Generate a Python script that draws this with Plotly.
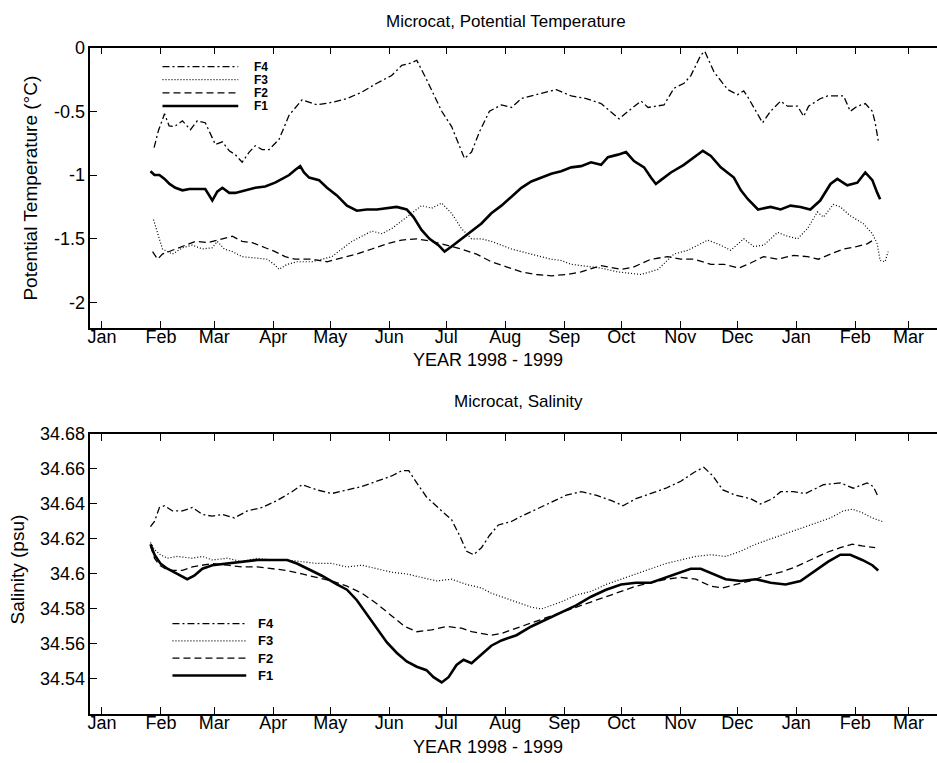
import pandas as pd
import plotly.graph_objects as go

# ---------------- data (day number since 1998-01-01, value) ----------------
months = ["Jan", "Feb", "Mar", "Apr", "May", "Jun", "Jul", "Aug", "Sep", "Oct",
          "Nov", "Dec", "Jan", "Feb", "Mar"]
month_starts = ["1998-01-01", "1998-02-01", "1998-03-01", "1998-04-01", "1998-05-01",
                "1998-06-01", "1998-07-01", "1998-08-01", "1998-09-01", "1998-10-01",
                "1998-11-01", "1998-12-01", "1999-01-01", "1999-02-01", "1999-03-01"]

# Potential temperature (deg C)
t_f4_day = [27.4, 29.7, 32.9, 35.3, 38.1, 42.3, 46.5, 50.1, 54.3, 59.6, 63.3, 66.9, 70.1, 73.7,
            77.4, 80.6, 84.2, 87.9, 93.1, 98.4, 105.2, 113.1, 120.9, 128.8, 136.6, 144.5, 152.3,
            157.6, 162.8, 165.5, 170.6, 178.6, 183.8, 188.0, 190.6, 194.3, 198.5, 203.7, 210.0,
            215.3, 220.5, 231.0, 238.9, 246.7, 254.6, 262.4, 269.2, 271.9, 276.6, 283.4, 287.1,
            295.5, 300.7, 306.0, 309.6, 314.8, 316.9, 321.7, 325.3, 329.0, 334.2, 337.4, 340.0,
            343.7, 347.3, 351.5, 356.8, 360.4, 365.7, 368.9, 371.5, 377.8, 381.5, 389.9, 393.4,
            397.1, 401.3, 405.0, 406.5, 408.1]
t_f4_val = [-0.785, -0.65, -0.52, -0.615, -0.62, -0.575, -0.645, -0.575, -0.59, -0.76, -0.74,
            -0.81, -0.84, -0.90, -0.82, -0.77, -0.80, -0.80, -0.72, -0.53, -0.41, -0.45, -0.43,
            -0.40, -0.35, -0.28, -0.22, -0.14, -0.12, -0.10, -0.25, -0.50, -0.62, -0.78, -0.87,
            -0.82, -0.66, -0.50, -0.45, -0.47, -0.40, -0.36, -0.33, -0.38, -0.40, -0.44, -0.53,
            -0.56, -0.50, -0.42, -0.47, -0.45, -0.32, -0.28, -0.22, -0.06, -0.03, -0.19, -0.26,
            -0.33, -0.37, -0.34, -0.40, -0.50, -0.59, -0.50, -0.42, -0.46, -0.46, -0.54, -0.46,
            -0.40, -0.38, -0.38, -0.50, -0.46, -0.44, -0.50, -0.59, -0.73]

t_f3_day = [27.1, 29.2, 31.8, 37.1, 42.3, 47.5, 52.8, 58.0, 60.6, 64.3, 68.5, 73.7, 81.6, 86.8,
            90.5, 93.1, 97.3, 102.5, 110.4, 115.6, 120.9, 126.1, 131.4, 136.6, 141.9, 147.1,
            152.3, 157.6, 162.8, 168.0, 173.3, 178.6, 183.8, 189.0, 194.3, 199.5, 204.7, 210.0,
            215.3, 220.5, 225.7, 231.0, 236.2, 241.4, 246.7, 251.9, 257.1, 262.4, 271.3, 278.1,
            283.4, 292.3, 296.5, 300.7, 308.0, 313.3, 318.5, 325.3, 330.5, 337.4, 342.6, 347.9,
            355.2, 360.4, 365.7, 370.9, 373.5, 376.1, 379.3, 384.5, 388.2, 393.4, 400.2, 405.0,
            407.6, 409.1, 411.7, 413.3]
t_f3_val = [-1.35, -1.45, -1.58, -1.62, -1.57, -1.55, -1.58, -1.57, -1.52, -1.58, -1.60, -1.64,
            -1.65, -1.66, -1.70, -1.74, -1.70, -1.68, -1.68, -1.66, -1.64, -1.58, -1.52, -1.48,
            -1.44, -1.46, -1.42, -1.36, -1.30, -1.24, -1.26, -1.22, -1.30, -1.42, -1.50, -1.50,
            -1.52, -1.55, -1.58, -1.60, -1.62, -1.64, -1.66, -1.67, -1.70, -1.71, -1.72, -1.73,
            -1.76, -1.77, -1.78, -1.74, -1.68, -1.62, -1.59, -1.55, -1.51, -1.55, -1.59, -1.50,
            -1.56, -1.55, -1.45, -1.48, -1.50, -1.42, -1.36, -1.29, -1.33, -1.23, -1.25, -1.32,
            -1.38, -1.46, -1.54, -1.67, -1.68, -1.60]

t_f2_day = [26.6, 29.2, 31.8, 37.1, 42.3, 49.1, 55.4, 63.3, 68.5, 73.7, 79.0, 85.8, 91.0, 96.3,
            101.5, 110.4, 118.3, 126.1, 134.0, 141.9, 149.7, 157.6, 165.5, 173.3, 181.2, 189.0,
            196.9, 204.7, 212.6, 220.5, 228.4, 236.2, 244.1, 251.9, 262.4, 272.9, 279.7, 288.6,
            297.5, 304.3, 311.2, 320.1, 326.9, 334.7, 341.0, 347.8, 355.2, 363.5, 370.9, 376.7,
            383.0, 389.8, 397.1, 402.3, 406.5]
t_f2_val = [-1.60, -1.66, -1.62, -1.59, -1.56, -1.52, -1.53, -1.50, -1.48, -1.52, -1.53, -1.57,
            -1.60, -1.64, -1.66, -1.66, -1.68, -1.65, -1.62, -1.58, -1.54, -1.51, -1.50, -1.52,
            -1.55, -1.58, -1.62, -1.68, -1.72, -1.76, -1.78, -1.79, -1.78, -1.76, -1.71, -1.74,
            -1.72, -1.66, -1.64, -1.66, -1.66, -1.70, -1.70, -1.73, -1.69, -1.64, -1.66, -1.63,
            -1.64, -1.66, -1.62, -1.58, -1.56, -1.54, -1.50]

t_f1_day = [25.5, 27.6, 30.2, 32.9, 35.5, 38.6, 42.3, 46.0, 49.1, 54.3, 58.0, 60.6, 63.3, 66.9,
            70.1, 75.3, 80.6, 85.8, 91.0, 94.7, 98.4, 101.5, 104.2, 106.2, 108.9, 114.1, 118.3,
            123.5, 128.8, 134.0, 139.2, 144.5, 149.7, 154.9, 160.2, 163.8, 168.0, 172.2, 176.9,
            180.1, 183.8, 189.0, 194.3, 199.5, 204.7, 210.0, 215.3, 220.5, 225.7, 231.0, 236.2,
            241.4, 246.7, 251.9, 257.1, 262.4, 266.0, 271.3, 275.5, 279.7, 285.0, 288.6, 291.2,
            293.8, 299.1, 305.9, 311.2, 315.9, 320.1, 325.3, 332.2, 335.9, 339.6, 344.9, 351.5,
            356.8, 362.0, 367.2, 372.4, 377.6, 383.0, 386.6, 391.8, 397.1, 401.3, 405.0, 407.6,
            409.1]
t_f1_val = [-0.97, -1.00, -1.00, -1.03, -1.07, -1.10, -1.12, -1.11, -1.11, -1.11, -1.20, -1.13,
            -1.10, -1.14, -1.14, -1.12, -1.10, -1.09, -1.06, -1.03, -1.00, -0.96, -0.93, -0.98,
            -1.02, -1.04, -1.10, -1.16, -1.24, -1.28, -1.27, -1.27, -1.26, -1.25, -1.27, -1.33,
            -1.43, -1.50, -1.55, -1.60, -1.56, -1.50, -1.44, -1.38, -1.30, -1.24, -1.17, -1.10,
            -1.05, -1.02, -0.99, -0.97, -0.94, -0.93, -0.90, -0.92, -0.86, -0.84, -0.82, -0.89,
            -0.94, -1.02, -1.07, -1.04, -0.98, -0.92, -0.86, -0.81, -0.85, -0.94, -1.02, -1.12,
            -1.19, -1.27, -1.25, -1.27, -1.24, -1.25, -1.27, -1.20, -1.07, -1.03, -1.08, -1.06,
            -0.98, -1.04, -1.14, -1.19]

# Salinity (psu)
s_f4_day = [25.5, 27.6, 30.2, 32.9, 37.1, 42.3, 47.5, 52.8, 58.0, 63.3, 69.6, 76.4, 84.2, 92.1,
            99.9, 105.2, 113.1, 120.9, 128.8, 136.6, 144.5, 152.3, 157.6, 161.3, 165.5, 170.6,
            178.6, 183.8, 188.0, 191.7, 195.4, 199.5, 203.7, 208.4, 215.3, 220.5, 228.4, 236.2,
            244.1, 251.9, 259.7, 267.6, 273.9, 280.7, 288.6, 296.5, 304.3, 311.2, 316.4, 321.2,
            326.4, 333.2, 341.0, 346.2, 352.5, 356.8, 363.6, 369.9, 379.3, 388.2, 395.0, 402.3,
            405.5, 408.1]
s_f4_val = [34.627, 34.630, 34.638, 34.639, 34.636, 34.636, 34.638, 34.634, 34.633, 34.634,
            34.632, 34.636, 34.638, 34.642, 34.647, 34.651, 34.648, 34.646, 34.648, 34.650,
            34.653, 34.656, 34.659, 34.659, 34.652, 34.644, 34.636, 34.631, 34.622, 34.613,
            34.611, 34.615, 34.622, 34.628, 34.630, 34.633, 34.637, 34.641, 34.645, 34.647,
            34.645, 34.642, 34.639, 34.643, 34.646, 34.649, 34.653, 34.658, 34.661, 34.656,
            34.648, 34.645, 34.643, 34.640, 34.643, 34.647, 34.647, 34.646, 34.651, 34.652,
            34.649, 34.652, 34.650, 34.644]

s_f3_day = [25.5, 27.6, 30.7, 34.4, 39.6, 47.5, 52.8, 58.0, 65.9, 73.7, 81.6, 89.4, 97.3, 105.2,
            113.1, 120.9, 128.8, 136.6, 144.5, 152.3, 160.2, 168.0, 175.9, 183.8, 191.7, 199.5,
            204.7, 210.0, 215.3, 220.5, 225.7, 231.0, 236.2, 241.4, 249.3, 257.1, 265.0, 272.9,
            280.7, 288.6, 296.5, 304.3, 312.2, 320.1, 327.9, 335.8, 343.7, 351.5, 359.4, 367.2,
            375.0, 382.9, 389.7, 394.5, 399.7, 405.0, 410.2]
s_f3_val = [34.618, 34.614, 34.611, 34.609, 34.610, 34.609, 34.610, 34.608, 34.609, 34.607,
            34.609, 34.608, 34.608, 34.607, 34.606, 34.606, 34.604, 34.605, 34.603, 34.601,
            34.600, 34.598, 34.596, 34.597, 34.594, 34.592, 34.589, 34.587, 34.585, 34.583,
            34.581, 34.580, 34.582, 34.584, 34.588, 34.590, 34.594, 34.597, 34.600, 34.603,
            34.606, 34.608, 34.610, 34.611, 34.610, 34.613, 34.617, 34.620, 34.623, 34.626,
            34.629, 34.632, 34.636, 34.637, 34.635, 34.632, 34.630]

s_f2_day = [25.5, 27.6, 30.2, 33.3, 37.1, 42.3, 47.5, 52.8, 58.0, 65.9, 73.7, 81.6, 89.4, 97.3,
            105.2, 113.1, 120.9, 128.8, 136.6, 144.5, 152.3, 159.1, 165.5, 173.3, 181.2, 189.0,
            194.3, 199.5, 204.7, 210.0, 217.9, 225.7, 233.6, 241.4, 249.3, 257.1, 265.0, 272.9,
            280.7, 288.6, 296.5, 304.3, 312.2, 320.1, 326.4, 333.2, 341.0, 348.9, 356.8, 364.6,
            372.4, 380.3, 388.2, 394.5, 399.7, 406.5]
s_f2_val = [34.616, 34.609, 34.605, 34.603, 34.602, 34.602, 34.604, 34.605, 34.606, 34.605,
            34.604, 34.604, 34.603, 34.602, 34.600, 34.598, 34.596, 34.593, 34.589, 34.583,
            34.576, 34.570, 34.567, 34.568, 34.570, 34.569, 34.567, 34.566, 34.565, 34.566,
            34.569, 34.572, 34.575, 34.578, 34.581, 34.584, 34.587, 34.590, 34.593, 34.595,
            34.597, 34.598, 34.597, 34.593, 34.592, 34.594, 34.596, 34.599, 34.601, 34.604,
            34.608, 34.612, 34.615, 34.617, 34.616, 34.615]

s_f1_day = [25.5, 27.6, 30.7, 34.4, 39.6, 44.8, 48.5, 52.8, 58.0, 65.9, 73.7, 81.6, 89.4, 97.3,
            102.5, 107.8, 115.6, 123.5, 128.8, 134.0, 139.2, 144.5, 149.7, 154.9, 160.2, 165.5,
            170.6, 174.3, 178.6, 182.2, 186.4, 190.1, 194.3, 199.5, 204.7, 210.0, 217.9, 225.7,
            233.6, 241.4, 249.3, 257.1, 265.0, 272.9, 280.7, 288.6, 296.5, 304.3, 309.5, 314.8,
            321.2, 327.9, 335.8, 343.7, 351.5, 359.4, 367.2, 375.0, 381.8, 388.2, 393.4, 399.7,
            405.0, 408.1]
s_f1_val = [34.617, 34.611, 34.606, 34.603, 34.600, 34.597, 34.599, 34.603, 34.605, 34.606,
            34.607, 34.608, 34.608, 34.608, 34.606, 34.603, 34.599, 34.594, 34.591, 34.585,
            34.577, 34.569, 34.561, 34.555, 34.550, 34.547, 34.545, 34.541, 34.538, 34.541,
            34.548, 34.551, 34.549, 34.554, 34.559, 34.562, 34.565, 34.570, 34.574, 34.578,
            34.582, 34.587, 34.591, 34.594, 34.595, 34.595, 34.598, 34.601, 34.603, 34.603,
            34.600, 34.597, 34.596, 34.597, 34.595, 34.594, 34.596, 34.602, 34.607, 34.611,
            34.611, 34.608, 34.605, 34.602]

temp_ticks = [0, -0.5, -1, -1.5, -2]
temp_ticktext = ["0", "-0.5", "-1", "-1.5", "-2"]
sal_ticks = [34.54, 34.56, 34.58, 34.60, 34.62, 34.64, 34.66, 34.68]
sal_ticktext = ["34.54", "34.56", "34.58", "34.6", "34.62", "34.64", "34.66", "34.68"]

# ---------------- figure ----------------
W, H = 937, 763
BASE = pd.Timestamp("1998-01-01")


def to_dates(days):
    return BASE + pd.to_timedelta(days, unit="D")


STYLES = {
    "F4": dict(color="black", width=1.3, dash="7px,3px,2px,3px"),
    "F3": dict(color="black", width=1.2, dash="1px,2px"),
    "F2": dict(color="black", width=1.3, dash="7px,4px"),
    "F1": dict(color="black", width=2.6),
}

fig = go.Figure()
top_series = [("F4", t_f4_day, t_f4_val), ("F3", t_f3_day, t_f3_val),
              ("F2", t_f2_day, t_f2_val), ("F1", t_f1_day, t_f1_val)]
bot_series = [("F4", s_f4_day, s_f4_val), ("F3", s_f3_day, s_f3_val),
              ("F2", s_f2_day, s_f2_val), ("F1", s_f1_day, s_f1_val)]
for name, d, v in top_series:
    fig.add_trace(go.Scatter(x=to_dates(d), y=v, mode="lines", name=name, line=STYLES[name],
                             xaxis="x", yaxis="y", showlegend=False))
for name, d, v in bot_series:
    fig.add_trace(go.Scatter(x=to_dates(d), y=v, mode="lines", name=name, line=STYLES[name],
                             xaxis="x2", yaxis="y2", showlegend=False))


def px_x(x):
    return x / W


def px_y(y):
    return 1 - y / H


FONT = "Liberation Sans, Arial, Helvetica, sans-serif"
xr = [BASE + pd.Timedelta(days=-6.08), BASE + pd.Timedelta(days=439.0)]
xdom = [px_x(87.7), 1.0]

common_x = dict(range=xr, domain=xdom, tickmode="array", tickvals=month_starts, ticktext=months,
                ticks="inside", ticklen=7, tickwidth=1, tickcolor="black", ticklabelstandoff=-8,
                showline=True, linecolor="black", linewidth=1.5, mirror="ticks",
                showgrid=False, zeroline=False, tickfont=dict(family=FONT, size=18, color="black"))
common_y = dict(ticks="inside", ticklen=7, tickwidth=1, tickcolor="black",
                showline=True, linecolor="black", linewidth=1.5, mirror=False,
                showgrid=False, zeroline=False, tickfont=dict(family=FONT, size=18, color="black"))

fig.update_layout(
    width=W, height=H, margin=dict(l=0, r=0, t=0, b=0),
    paper_bgcolor="white", plot_bgcolor="white", showlegend=False,
    xaxis=dict(common_x, anchor="y"),
    yaxis=dict(common_y, domain=[px_y(322.3), px_y(38.0)], range=[-2.2, 0],
               tickmode="array", tickvals=temp_ticks, ticktext=temp_ticktext, anchor="x"),
    xaxis2=dict(common_x, anchor="y2"),
    yaxis2=dict(common_y, domain=[px_y(713.3), px_y(429.6)], range=[34.52, 34.68],
                tickmode="array", tickvals=sal_ticks, ticktext=sal_ticktext, anchor="x2"),
)

ann = []
shapes = []


def text(x, y, s, size=18, angle=0, bold=False, xanchor="center", family=FONT, pad=1):
    ann.append(dict(x=px_x(x), y=px_y(y), xref="paper", yref="paper", text=("<b>%s</b>" % s) if bold else s,
                    showarrow=False, textangle=angle, xanchor=xanchor, yanchor="middle",
                    borderpad=pad, font=dict(family=family, size=size, color="black")))


text(505, 12, "Microcat, Potential Temperature", size=17)
text(487, 355, "YEAR 1998 - 1999", size=18)
text(28, 180, "Potential Temperature (°C)", size=19, angle=-90)
text(517, 397, "Microcat, Salinity", size=17)
text(487, 747, "YEAR 1998 - 1999", size=18)
text(15, 567, "Salinity (psu)", size=19, angle=-90)

LEGFONT = "Liberation Sans Narrow, Arial Narrow, Liberation Sans, sans-serif"
for (names, ys, x0, x1, xt, fs) in [
        (["F4", "F3", "F2", "F1"], [57.3, 70.6, 83.9, 97.2], 160, 236, 251, 12),
        (["F4", "F3", "F2", "F1"], [621.7, 639.3, 656.7, 674.3], 170, 244, 255, 13)]:
    for nm, yy in zip(names, ys):
        st = STYLES[nm]
        shapes.append(dict(type="line", xref="paper", yref="paper", x0=px_x(x0), x1=px_x(x1),
                           y0=px_y(yy), y1=px_y(yy),
                           line=dict(color="black", width=st["width"], dash=st.get("dash", "solid"))))
        text(xt, yy, nm, size=fs, bold=True, xanchor="left", family=LEGFONT, pad=0)

fig.update_layout(annotations=ann, shapes=shapes)
fig.write_html("out.html")
